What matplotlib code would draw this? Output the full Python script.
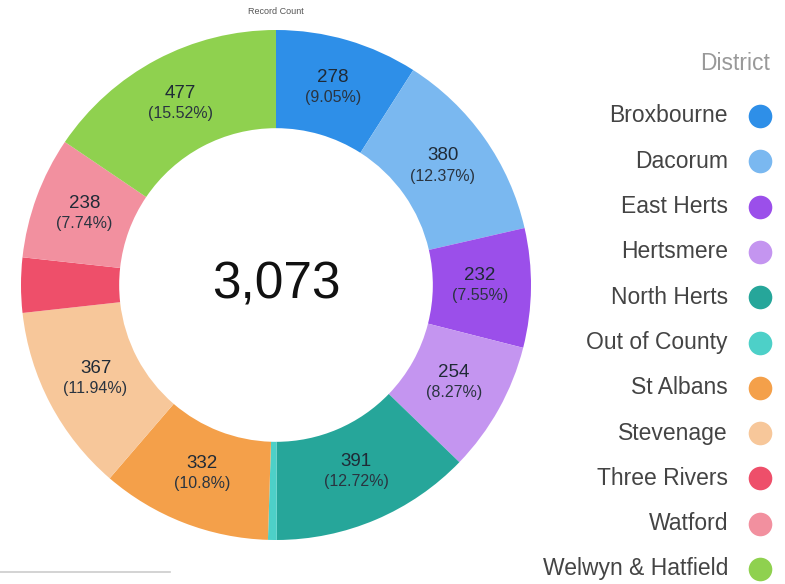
import numpy as np
import matplotlib.pyplot as plt
from matplotlib.lines import Line2D

districts = ['Broxbourne', 'Dacorum', 'East Herts', 'Hertsmere', 'North Herts',
             'Out of County', 'St Albans', 'Stevenage', 'Three Rivers', 'Watford',
             'Welwyn & Hatfield']
counts = [278, 380, 232, 254, 391, 17, 332, 367, 107, 238, 477]
colors = ['#2E8FE8', '#7AB8F0', '#9B4FEA', '#C495F0', '#26A69A', '#4DD0C8',
          '#F4A04A', '#F7C79A', '#EE4F6A', '#F2909F', '#8FD14F']

plt.rcParams['font.family'] = ['Liberation Sans', 'DejaVu Sans']

W, H = 785, 584
fig = plt.figure(figsize=(W / 100, H / 100), dpi=100)

# donut
cx, cy, R = 276, 584 - 285, 255
ax = fig.add_axes([(cx - R) / W, (cy - R) / H, 2 * R / W, 2 * R / H])
total = sum(counts)

wedges, _ = ax.pie(counts, colors=colors, startangle=90, counterclock=False,
                   radius=1, wedgeprops=dict(width=0.385, linewidth=0))

# labels only on the bigger slices
for w, c in zip(wedges, counts):
    pct = c / total * 100
    if pct < 5:
        continue
    ang = np.deg2rad((w.theta1 + w.theta2) / 2)
    x, y = 0.8 * np.cos(ang), 0.8 * np.sin(ang)
    p = ('%.2f' % pct).rstrip('0').rstrip('.')
    ax.text(x, y + 0.012, f'{c}', ha='center', va='bottom', fontsize=13.5, color='#1f2a36')
    ax.text(x, y - 0.004, f'({p}%)', ha='center', va='top', fontsize=11.5, color='#2a3440')

ax.text(0, 0, f'{total:,}', ha='center', va='center', fontsize=37, color='#111111')
ax.set_xlim(-1, 1)
ax.set_ylim(-1, 1)
ax.set_aspect('equal')
ax.axis('off')

fig.text(cx / W, 1 - 12 / H, 'Record Count', ha='center', va='center', fontsize=6.5, color='#555555')

# legend
fig.text(770 / W, 1 - 63 / H, 'District', ha='right', va='center', fontsize=16.5, color='#999999')
y0, dy = 116, 45.3
for i, (name, col) in enumerate(zip(districts, colors)):
    yy = 1 - (y0 + i * dy) / H
    fig.text(728 / W, yy, name, ha='right', va='center', fontsize=16.5, color='#444444')
    fig.add_artist(Line2D([760 / W], [yy], marker='o', markersize=17, color=col,
                          markeredgewidth=0, transform=fig.transFigure))

fig.add_artist(Line2D([0, 170 / W], [1 - 572 / H] * 2, color='#cccccc', linewidth=1.2,
                      transform=fig.transFigure))

fig.savefig('out.png', dpi=100)
